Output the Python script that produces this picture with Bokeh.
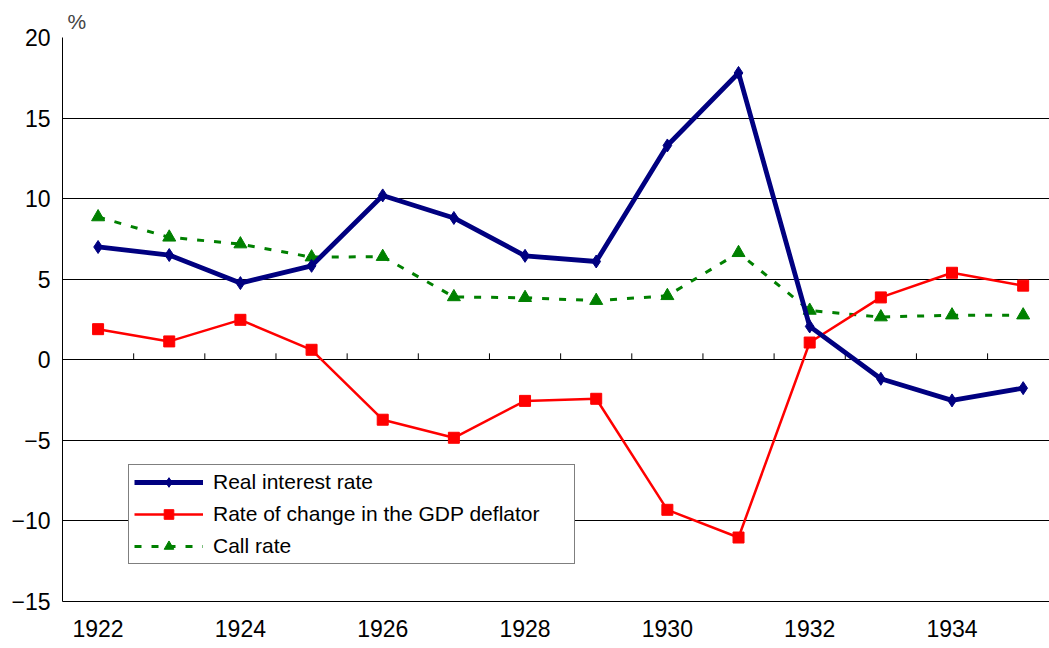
from bokeh.plotting import figure
from bokeh.models import (FixedTicker, Legend, LegendItem, Title, ColumnDataSource)
from bokeh.embed import file_html
from bokeh.resources import INLINE

years = [1922, 1923, 1924, 1925, 1926, 1927, 1928, 1929, 1930, 1931, 1932, 1933, 1934, 1935]
real_rate = [7.0, 6.5, 4.76, 5.83, 10.2, 8.8, 6.45, 6.1, 13.3, 17.8, 2.07, -1.18, -2.52, -1.76]
gdp_deflator = [1.9, 1.14, 2.48, 0.62, -3.72, -4.84, -2.55, -2.42, -9.31, -11.03, 1.07, 3.87, 5.4, 4.6]
call_rate = [8.86, 7.6, 7.18, 6.37, 6.4, 3.9, 3.85, 3.67, 3.97, 6.64, 3.06, 2.65, 2.77, 2.77]
x_tick_years = [1922, 1924, 1926, 1928, 1930, 1932, 1934]
x_tick_labels = [str(y) for y in x_tick_years]
y_ticks = [-15, -10, -5, 0, 5, 10, 15, 20]
y_tick_labels = ["\u221215", "\u221210", "\u22125", "0", "5", "10", "15", "20"]
names = ["Real interest rate", "Rate of change in the GDP deflator", "Call rate"]
unit_label = "%"

FONT = "Liberation Sans"

p = figure(width=1049, height=648, output_backend="svg", toolbar_location=None,
           x_range=(1921.5, 1935.37), y_range=(-15, 20),
           min_border_left=62, min_border_right=0, min_border_top=37, min_border_bottom=47)
p.outline_line_color = None
p.background_fill_color = "white"
p.border_fill_color = "white"

# axes
p.xaxis.ticker = FixedTicker(ticks=x_tick_years)
p.xaxis.major_label_overrides = {y: l for y, l in zip(x_tick_years, x_tick_labels)}
p.xaxis.major_tick_out = 0
p.xaxis.major_tick_in = 0
p.xaxis.minor_tick_out = 0
p.xaxis.minor_tick_in = 0
p.xaxis.major_label_standoff = 18
p.xaxis.axis_line_color = "black"
p.xaxis.axis_line_width = 1

p.yaxis.ticker = FixedTicker(ticks=y_ticks)
p.yaxis.major_label_overrides = {v: l for v, l in zip(y_ticks, y_tick_labels)}
p.yaxis.major_tick_out = 0
p.yaxis.major_tick_in = 0
p.yaxis.minor_tick_out = 0
p.yaxis.minor_tick_in = 0
p.yaxis.major_label_standoff = 12
p.yaxis.axis_line_color = "black"

for ax in (p.xaxis, p.yaxis):
    ax.major_label_text_font = FONT
    ax.major_label_text_font_size = "23px"
    ax.major_label_text_color = "black"

p.xgrid.grid_line_color = None
p.ygrid.ticker = FixedTicker(ticks=y_ticks)
p.ygrid.grid_line_color = "black"
p.ygrid.grid_line_width = 1

# category-boundary ticks on the zero line
bounds = [y + 0.5 for y in years[:-1]]
p.segment(x0=bounds, y0=[0] * len(bounds), x1=bounds, y1=[0.4] * len(bounds),
          line_color="black", line_width=1)

# series
src = ColumnDataSource(dict(x=years, r=real_rate, g=gdp_deflator, c=call_rate))

c_line = p.line("x", "c", source=src, line_color="#008000", line_width=3, line_dash="7 10")
c_mark = p.scatter("x", "c", source=src, marker="triangle", size=13,
                   fill_color="#008000", line_color="#008000")

g_line = p.line("x", "g", source=src, line_color="#ff0000", line_width=2.5)
g_mark = p.scatter("x", "g", source=src, marker="square", size=11,
                   fill_color="#ff0000", line_color="#ff0000")

r_line = p.line("x", "r", source=src, line_color="#000080", line_width=4.8)
r_mark = p.scatter("x", "r", source=src, marker="diamond", size=13,
                   fill_color="#000080", line_color="#000080")

legend = Legend(items=[
    LegendItem(label=names[0], renderers=[r_line, r_mark]),
    LegendItem(label=names[1], renderers=[g_line, g_mark]),
    LegendItem(label=names[2], renderers=[c_line, c_mark]),
], location=(66, 37))
legend.margin = 0
legend.padding = 5
legend.spacing = 8
legend.glyph_width = 69
legend.glyph_height = 24
legend.label_standoff = 10
legend.label_width = 356
legend.label_text_font = FONT
legend.label_text_font_size = "21px"
legend.label_text_color = "black"
legend.border_line_color = "black"
legend.border_line_width = 1
legend.background_fill_alpha = 1
p.add_layout(legend)

t = Title(text=unit_label, align="left", offset=5, text_font=FONT, text_font_size="21px",
          text_font_style="normal", standoff=10)
p.add_layout(t, "above")

open("out.html", "w").write(file_html(p, INLINE))
